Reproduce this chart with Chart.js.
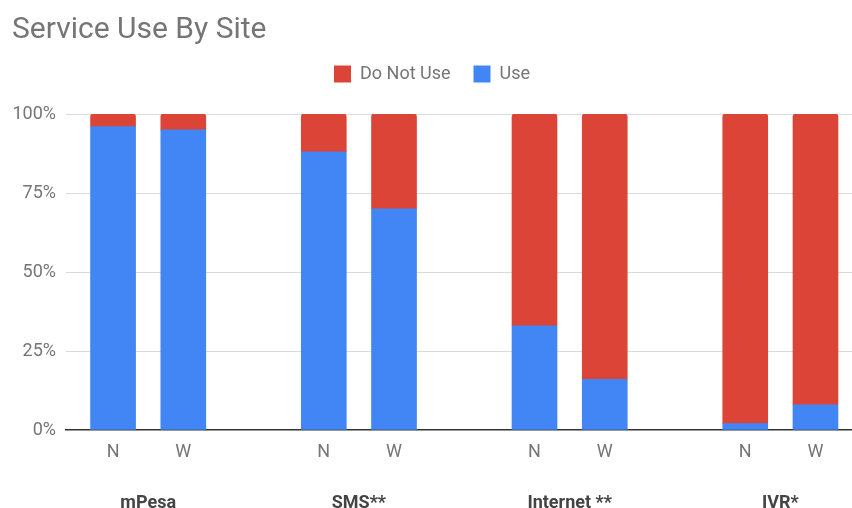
<!DOCTYPE html>
<html>
<head>
<meta charset="utf-8">
<title>Service Use By Site</title>
<script src="https://cdn.jsdelivr.net/npm/chart.js"></script>
<style>
  html, body { margin: 0; padding: 0; background: #fff; }
  #wrap { width: 852px; height: 508px; }
</style>
</head>
<body>
<div id="wrap"><canvas id="site-chart"></canvas></div>
<script>
// Data (percent of respondents)
const services = ['mPesa', 'SMS**', 'Internet **', 'IVR*'];
const sites = ['N', 'W'];
// order: mPesa N, mPesa W, SMS N, SMS W, Internet N, Internet W, IVR N, IVR W
const useValues = [96, 95, 88, 70, 33, 16, 2, 8];
const notUseValues = [4, 5, 12, 30, 67, 84, 98, 92];
const percentTicks = [0, 25, 50, 75, 100];

// every service gets 3 slots on the x axis: N, W and an empty gap
const perGroup = sites.length + 1;
const barX = useValues.map((v, i) => Math.floor(i / sites.length) * perGroup + (i % sites.length));
const groupX = services.map((s, g) => g * perGroup + (sites.length - 1) / 2);

const gray = '#757575';
Chart.defaults.font.family = 'Roboto';

// extra room between the legend and the plot
const legendGap = {
    id: 'legendGap',
    beforeInit(chart) {
        if (!chart.legend) return;
        const fit = chart.legend.fit;
        chart.legend.fit = function () {
            fit.call(this);
            this.height += 21;
        };
    }
};

const ctx = document.getElementById('site-chart').getContext('2d');
new Chart(ctx, {
    type: 'bar',
    data: {
        datasets: [
            {
                label: 'Use',
                data: useValues.map((v, i) => ({ x: barX[i], y: v })),
                backgroundColor: '#4285f4',
                borderWidth: 0
            },
            {
                label: 'Do Not Use',
                data: notUseValues.map((v, i) => ({ x: barX[i], y: v })),
                backgroundColor: '#db4437',
                borderWidth: 0,
                borderRadius: { topLeft: 3, topRight: 3, bottomLeft: 0, bottomRight: 0 },
                borderSkipped: false
            }
        ]
    },
    plugins: [legendGap],
    options: {
        responsive: true,
        maintainAspectRatio: false,
        animation: false,
        barThickness: 45,
        layout: { padding: { left: 12, right: 0, top: 15, bottom: 0 } },
        plugins: {
            title: {
                display: true,
                text: 'Service Use By Site',
                align: 'start',
                color: gray,
                font: { size: 30, weight: 'normal', lineHeight: 1 },
                padding: { top: 0, bottom: -3 }
            },
            legend: {
                position: 'top',
                reverse: true,
                labels: {
                    color: gray,
                    font: { size: 18 },
                    boxWidth: 17,
                    boxHeight: 17,
                    padding: 23
                }
            },
            tooltip: { enabled: false }
        },
        scales: {
            x: {
                type: 'linear',
                stacked: true,
                offset: false,
                min: -0.67,
                max: 10.52,
                afterBuildTicks: (scale) => {
                    scale.ticks = barX.map(v => ({ value: v }));
                },
                afterFit: (scale) => { scale.height = 34; },
                ticks: {
                    color: gray,
                    font: { size: 18 },
                    padding: 12,
                    callback: (value) => sites[barX.indexOf(value) % sites.length]
                },
                grid: { display: false, drawTicks: false },
                border: { display: true, color: '#333', width: 1.5 }
            },
            groups: {
                type: 'linear',
                position: 'bottom',
                offset: false,
                min: -0.67,
                max: 10.52,
                afterBuildTicks: (scale) => {
                    scale.ticks = groupX.map(v => ({ value: v }));
                },
                afterFit: (scale) => { scale.height = 44; },
                ticks: {
                    color: '#444',
                    font: { size: 18, weight: 'bold' },
                    padding: 29,
                    callback: (value) => services[groupX.indexOf(value)]
                },
                grid: { display: false, drawTicks: false },
                border: { display: false }
            },
            y: {
                stacked: true,
                min: 0,
                max: 100,
                afterBuildTicks: (scale) => {
                    scale.ticks = percentTicks.map(v => ({ value: v }));
                },
                afterFit: (scale) => { scale.width = 54; },
                ticks: {
                    color: gray,
                    font: { size: 18 },
                    padding: 10,
                    callback: (value) => value + '%'
                },
                grid: {
                    drawTicks: false,
                    color: (c) => c.tick && c.tick.value === 0 ? 'rgba(0,0,0,0)' : '#dadada'
                },
                border: { display: false }
            }
        }
    }
});
</script>
</body>
</html>
